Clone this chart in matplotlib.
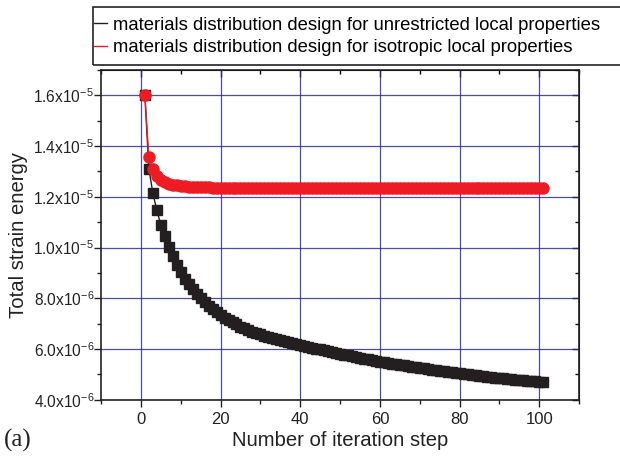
import matplotlib
matplotlib.use("Agg")
import matplotlib.pyplot as plt
from matplotlib.lines import Line2D
from matplotlib.patches import Rectangle
from matplotlib.ticker import MultipleLocator, FuncFormatter
import numpy as np

plt.rcParams['font.family'] = ['Liberation Sans', 'DejaVu Sans']
plt.rcParams['mathtext.fontset'] = 'custom'
plt.rcParams['mathtext.rm'] = 'Liberation Sans'

# iteration steps 1..101
steps = list(range(1, 102))

# total strain energy, units of 1e-6
unrestricted = [
    16.00, 13.11, 12.15, 11.47, 10.90, 10.44, 10.02, 9.65, 9.33, 9.03,
    8.78, 8.55, 8.35, 8.17, 8.00, 7.85, 7.71, 7.58, 7.46, 7.34,
    7.24, 7.14, 7.05, 6.97, 6.89, 6.82, 6.75, 6.69, 6.63, 6.58,
    6.53, 6.48, 6.44, 6.40, 6.36, 6.32, 6.28, 6.25, 6.21, 6.18,
    6.14, 6.10, 6.06, 6.02, 5.99, 5.95, 5.92, 5.88, 5.85, 5.81,
    5.78, 5.75, 5.72, 5.69, 5.66, 5.63, 5.60, 5.57, 5.54, 5.51,
    5.48, 5.46, 5.43, 5.41, 5.38, 5.36, 5.33, 5.31, 5.28, 5.26,
    5.24, 5.21, 5.19, 5.17, 5.15, 5.13, 5.11, 5.09, 5.06, 5.04,
    5.02, 5.00, 4.99, 4.97, 4.95, 4.93, 4.92, 4.90, 4.88, 4.87,
    4.85, 4.84, 4.82, 4.80, 4.79, 4.77, 4.76, 4.75, 4.73, 4.72,
    4.71,
]
isotropic = [
    16.00, 13.58, 13.08, 12.84, 12.68, 12.58, 12.52, 12.48, 12.45, 12.43,
    12.41, 12.40, 12.39, 12.38, 12.37, 12.37, 12.37, 12.36, 12.36, 12.36,
    12.36, 12.36, 12.36, 12.36, 12.36, 12.36, 12.36, 12.36, 12.36, 12.36,
    12.36, 12.36, 12.36, 12.36, 12.36, 12.36, 12.36, 12.36, 12.36, 12.36,
    12.36, 12.36, 12.36, 12.36, 12.36, 12.36, 12.36, 12.36, 12.36, 12.36,
    12.36, 12.36, 12.36, 12.36, 12.36, 12.36, 12.36, 12.36, 12.36, 12.36,
    12.36, 12.36, 12.36, 12.36, 12.36, 12.36, 12.36, 12.36, 12.36, 12.36,
    12.36, 12.36, 12.36, 12.36, 12.36, 12.36, 12.36, 12.36, 12.36, 12.36,
    12.36, 12.36, 12.36, 12.36, 12.36, 12.36, 12.36, 12.36, 12.36, 12.36,
    12.36, 12.36, 12.36, 12.36, 12.36, 12.36, 12.36, 12.36, 12.36, 12.36,
    12.36,
]
labels = ['materials distribution design for unrestricted local properties',
          'materials distribution design for isotropic local properties']
ytick_text = {4: '4.0x10$^{-6}$', 6: '6.0x10$^{-6}$', 8: '8.0x10$^{-6}$',
              10: '1.0x10$^{-5}$', 12: '1.2x10$^{-5}$', 14: '1.4x10$^{-5}$',
              16: '1.6x10$^{-5}$'}

black = '#231f20'
red = '#ed1c24'
gridc = '#2e2e96'
textc = '#222222'

fig = plt.figure(figsize=(6.2, 4.57), dpi=100)
ax = fig.add_axes([0.163, 0.125, 0.771, 0.722])

x = np.array(steps)
ax.plot(x, np.array(unrestricted) * 1e-6, color=black, lw=1, marker='s',
        ms=6.5, mec=black, mfc=black, zorder=3)
ax.plot(x, np.array(isotropic) * 1e-6, color=red, lw=1, marker='o',
        ms=8, mec=red, mfc=red, zorder=4)

ax.set_xlim(-10, 110)
ax.set_ylim(4e-6, 1.7e-5)
ax.xaxis.set_major_locator(MultipleLocator(20))
ax.xaxis.set_minor_locator(MultipleLocator(10))
ax.yaxis.set_major_locator(MultipleLocator(2e-6))
ax.yaxis.set_minor_locator(MultipleLocator(1e-6))
ax.yaxis.set_major_formatter(FuncFormatter(
    lambda v, p: ytick_text.get(int(round(v * 1e6)), '')))

ax.grid(True, which='major', color=gridc, lw=0.9, alpha=0.85)
ax.set_axisbelow(True)
ax.tick_params(which='both', direction='out', colors=textc)
ax.tick_params(axis='x', labelsize=12)
ax.tick_params(axis='y', labelsize=11.2, pad=0)
ax.tick_params(which='major', length=5, width=1)
ax.tick_params(which='minor', length=3, width=1)
for s in ax.spines.values():
    s.set_linewidth(1.2)
    s.set_color(textc)

# ticks pointing inward on the top and right sides
top = ax.secondary_xaxis('top')
top.xaxis.set_major_locator(MultipleLocator(20))
top.xaxis.set_minor_locator(MultipleLocator(10))
top.tick_params(which='both', direction='in', labeltop=False)
top.tick_params(which='major', length=5, width=1)
top.tick_params(which='minor', length=3, width=1)
right = ax.secondary_yaxis('right')
right.yaxis.set_major_locator(MultipleLocator(2e-6))
right.yaxis.set_minor_locator(MultipleLocator(1e-6))
right.tick_params(which='both', direction='in', labelright=False)
right.tick_params(which='major', length=5, width=1)
right.tick_params(which='minor', length=3, width=1)

ax.set_xlabel('Number of iteration step', fontsize=14.6, color=textc, labelpad=3)
ax.set_ylabel('Total strain energy', fontsize=14.6, color=textc)
ax.yaxis.set_label_coords(-0.152, 0.5)

# legend frame drawn separately so it can run off the right edge
fig.patches.append(Rectangle((0.150, 0.858), 0.90, 0.127, transform=fig.transFigure,
                             fill=False, edgecolor=textc, lw=1.2))
handles = [Line2D([], [], color=black, lw=1), Line2D([], [], color=red, lw=1)]
fig.legend(handles, labels, loc='upper left', bbox_to_anchor=(0.151, 0.963),
           fontsize=13.3, frameon=False, handlelength=0.75, handletextpad=0.3,
           borderpad=0, labelspacing=0.3, borderaxespad=0)

fig.text(0.006, 0.022, '(a)', fontsize=18, family='Liberation Serif', color=textc)

fig.savefig('out.png', dpi=100)
